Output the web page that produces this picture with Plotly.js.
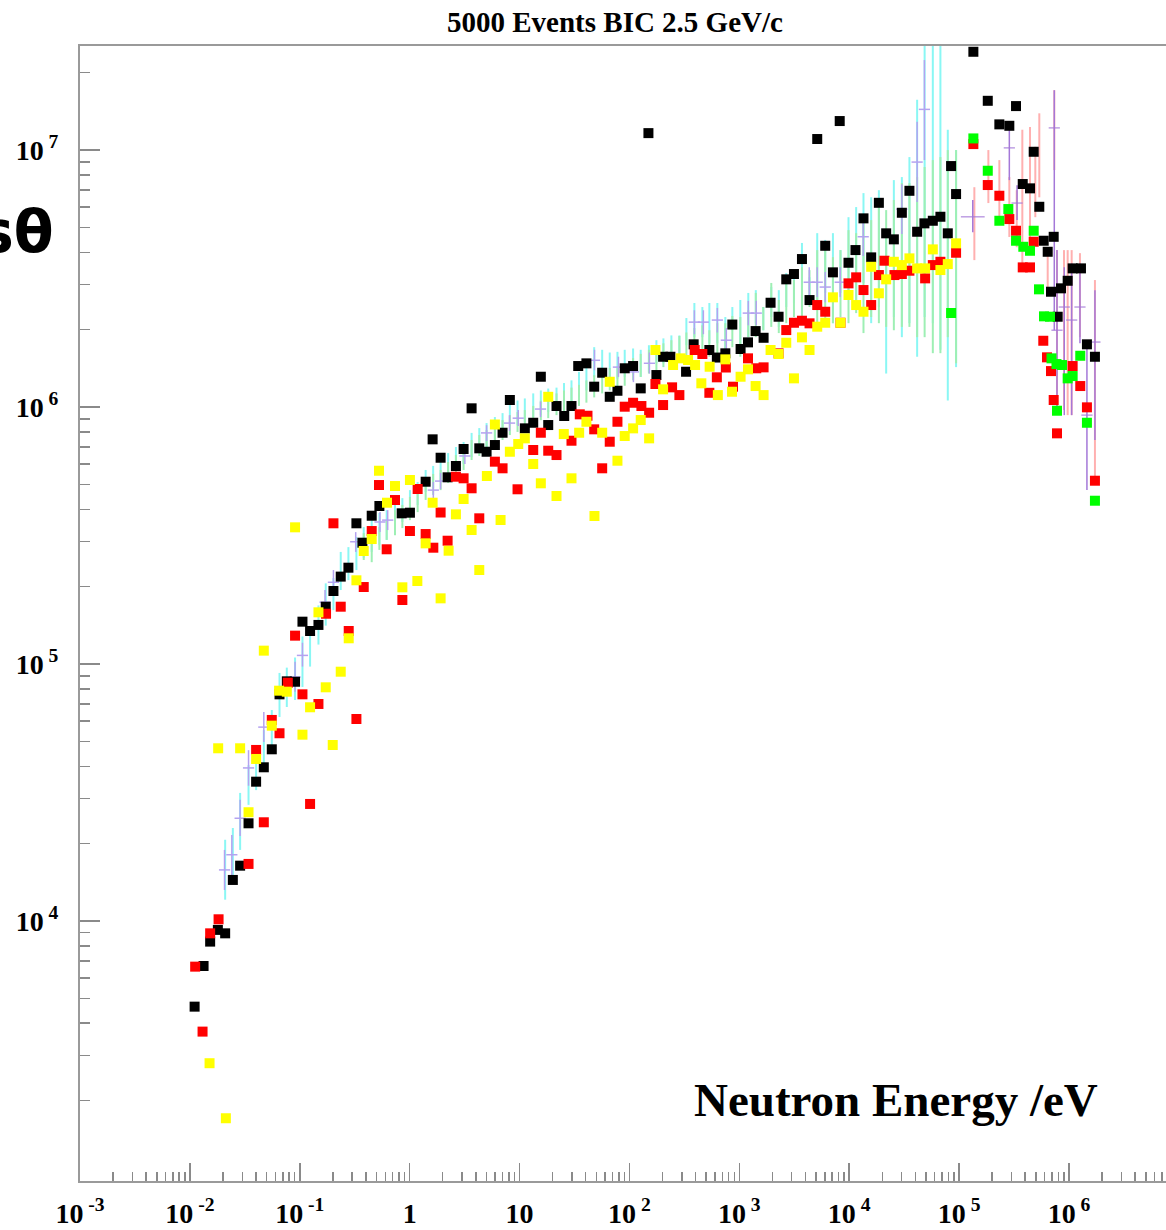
<!DOCTYPE html>
<html><head><meta charset="utf-8">
<script src="https://cdn.plot.ly/plotly-3.0.1.min.js"></script>
<style>html,body{margin:0;padding:0;background:#fff}</style>
</head><body><div id="chart" style="width:1166px;height:1230px"></div>
<script>
// ---- data: neutron energy (eV) vs flux ----
const blackE = [0.01104,0.01332,0.01529,0.01797,0.02094,0.0246,0.02866,0.03417,0.04006,0.04707,0.05564,0.0654,0.0762,0.0906,0.1058,0.1241,0.1479,0.1723,0.2025,0.2359,0.2771,0.3277,0.3715,0.4515,0.5303,0.846,1.006,1.398,1.618,1.913,2.215,2.636,3.097,3.662,4.301,5.012,5.965,7.005,8.163,11.17,13.32,15.62,18.24,21.7,25.5,29.7,34.2,40.6,47.8,56.5,66.2,77.8,90.6,108,126.7,148.9,176,202.5,235.9,327.7,384.2,533.7,624.5,746,863.9,1027,1200,1407,1663,1925,2277,2675,3143,3716,4356,5118,6050,7110,8196,9855,11410,13490,15850,18620,21700,25490,30140,35330,41520,48360,57670,67610,78930,84580,93900,134900,182400,232500,286600,329800,379500,442100,477600,537000,588800,640300,686200,726000,789300,845900,973100,1.08e6,1.286e6,1.457e6,1.723e6];
const blackY = [4640,6680,8310,9230,8950,14440,16410,23990,34830,39630,46560,76200,85600,85300,146100,134400,141900,167100,192300,218800,237000,352800,296500,377600,412000,385800,387900,512100,748600,634900,532700,589500,686400,988500,690700,669900,711400,794300,1.065e6,826000,868600,1.312e6,851000,1.009e6,922600,1.009e6,1.444e6,1.479e6,1.2e6,1.36e6,1.096e6,1.157e6,1.415e6,1.444e6,1.182e6,1.164e7,1.332e6,1.569e6,1.569e6,1.372e6,1.754e6,1.667e6,1.558e6,1.618e6,2.094e6,1.682e6,1.785e6,1.975e6,1.86e6,2.546e6,2.246e6,3.14e6,3.293e6,3.766e6,2.608e6,1.104e7,4.242e6,3.343e6,1.297e7,3.643e6,4.082e6,5.423e6,3.823e6,6.234e6,4.742e6,4.493e6,5.702e6,6.943e6,4.81e6,5.186e6,5.308e6,5.502e6,4.742e6,8.664e6,6.742e6,2.413e7,1.555e7,1.259e7,1.243e7,1.483e7,7.376e6,7.096e6,9.849e6,6.016e6,4.438e6,4.02e6,2.81e6,4.597e6,2.246e6,2.897e6,3.1e6,3.464e6,3.464e6,1.754e6,1.569e6];

const redE = [0.01117,0.01304,0.01529,0.01824,0.03417,0.04006,0.04707,0.05564,0.0654,0.0778,0.0906,0.1058,0.1241,0.1479,0.1734,0.2025,0.2359,0.2789,0.3277,0.382,0.4515,0.526,0.6179,0.7354,0.8583,1.006,1.182,1.398,1.642,1.913,2.215,2.636,3.097,3.662,4.301,5.965,7.005,9.59,13.32,15.62,18.24,21.7,29.7,35.33,41.52,47.8,56.5,66.2,77.8,90.6,108,128.5,151.1,172.4,202.5,244.5,284.8,392.4,461,533.7,624.5,754,876.5,1200,1427,1663,2277,2675,3143,3716,4356,5118,6050,8333,9855,11570,13490,15850,18620,20940,25810,30140,35330,49090,57670,67610,93900,134900,182400,232500,286600,329800,379500,442100,477600,583900,631000,686200,726000,778000,1.08e6,1.267e6,1.457e6,1.723e6];
const redY = [6640,3710,8950,10150,16670,46290,24210,60560,53760,84560,128900,76210,28530,69890,156900,352800,167100,134400,61090,199300,329200,497100,279500,434600,177400,329200,479700,320400,283500,388600,301800,535600,528000,482800,368900,612800,577500,478500,680300,794300,676100,650400,739400,936700,924900,818900,577500,732800,876400,1.003e6,1.039e6,1.009e6,950200,1.229e6,1.018e6,1.193e6,1.113e6,1.667e6,1.608e6,1.136e6,1.305e6,1.425e6,1.2e6,1.547e6,1.415e6,1.427e6,1.618e6,1.993e6,2.128e6,2.167e6,2.117e6,2.494e6,2.349e6,2.128e6,3.029e6,3.197e6,2.853e6,2.494e6,3.263e6,3.71e6,3.263e6,3.293e6,3.392e6,3.168e6,3.568e6,3.675e6,3.985e6,1.055e7,7.31e6,6.641e6,5.389e6,4.853e6,3.495e6,3.495e6,4.398e6,1.811e6,1.561e6,1.38e6,1.065e6,7.9e5,1.444e6,1.207e6,997200,516700];

const yellowE = [0.0151,0.01809,0.02125,0.02866,0.03417,0.04006,0.04707,0.05564,0.06483,0.0762,0.0906,0.1058,0.1241,0.1479,0.1723,0.1995,0.2359,0.2789,0.3277,0.382,0.4515,0.526,0.6218,0.7354,0.8583,1.006,1.175,1.398,1.618,1.913,2.262,2.636,3.097,3.662,4.301,5.043,5.965,6.72,8.163,9.73,11.17,13.32,15.62,18.24,21.7,25.28,29.7,34.88,40.6,48.07,56.5,66.2,77.8,90.6,108,126.7,151.1,172.4,202.5,249.7,292.7,341.7,395.7,451.3,537,637.6,746,858.4,1027,1200,1407,1663,1925,2277,2675,3143,3716,4356,5118,6050,7110,8333,9855,11570,13490,15850,18620,21700,25490,30140,35330,41520,49090,57670,67610,78930,93900];
const yellowY = [2795,46990,1707,46990,26490,42700,112700,57540,78730,78020,340300,53080,67850,158900,81150,48390,93330,125900,211700,275300,306400,565100,424300,492700,198800,520000,210400,294800,424300,180100,276000,382300,438500,332200,232100,538900,855000,363400,669900,717800,755300,600100,504900,1.096e6,450500,785000,528000,794300,876400,376600,794300,1.254e6,618100,771200,826000,890000,755300,1.667e6,1.172e6,1.457e6,1.547e6,1.524e6,1.457e6,1.237e6,1.435e6,1.113e6,1.533e6,1.147e6,1.312e6,1.402e6,1.207e6,1.113e6,1.667e6,1.608e6,1.779e6,1.293e6,1.867e6,1.667e6,2.054e6,2.128e6,2.673e6,2.128e6,2.729e6,2.494e6,2.349e6,3.514e6,2.771e6,3.14e6,3.675e6,3.568e6,3.789e6,3.464e6,3.464e6,4.107e6,3.413e6,3.6e6,4.335e6];

const greenE = [84580,134900,182400,232500,280700,329800,384200,442100,477600,533700,592500,672000,693400,769600,778000,863800,973100,1.08e6,1.267e6,1.457e6,1.723e6];
const greenY = [2.322e6,1.11e7,8.309e6,5.308e6,5.895e6,4.438e6,4.204e6,4.056e6,4.853e6,2.871e6,2.254e6,2.246e6,1.547e6,1.47e6,967400,1.457e6,1.293e6,1.32e6,1.583e6,868600,431900];

// error-bar histograms (lower / upper ends of each bar)
const cyanE = [0.02094,0.0246,0.02866,0.03417,0.04006,0.04707,0.05564,0.0654,0.0762,0.0906,0.1058,0.1241,0.1479,0.1723,0.2025,0.2359,0.2771,0.3277,0.382,0.4515,0.5303,0.6179,0.7354,0.8583,1.006,1.182,1.398,1.636,1.913,2.239,2.636,3.097,3.662,4.301,5.012,5.965,7.005,8.163,9.59,11.17,13.32,15.62,18.24,21.7,25.39,29.7,34.74,40.6,47.8,56.5,66.2,77.8,90.6,108,126.7,150.4,176,203.8,240.9,284.8,329.8,389.9,461,533.7,631,746,864,1021,1207,1413,1653,1954,2287,2675,3143,3716,4356,5118,6050,7110,8333,9855,11570,13490,15850,18620,21700,25490,30140,35330,41520,48580,57670,67610,78930,93900];
const cyanHi = [2.07e4,2.30e4,3.15e4,4.04e4,4.42e4,5.53e4,6.62e4,9.23e4,9.68e4,1.06e5,1.28e5,1.39e5,1.69e5,2.06e5,2.16e5,2.73e5,2.85e5,3.12e5,3.41e5,3.63e5,3.87e5,3.97e5,4.16e5,4.42e5,4.75e5,5.11e5,5.69e5,5.90e5,6.11e5,6.62e5,6.99e5,7.31e5,7.93e5,8.28e5,8.66e5,9.14e5,9.47e5,1.09e6,1.06e6,1.08e6,1.13e6,1.16e6,1.18e6,1.19e6,1.24e6,1.27e6,1.37e6,1.49e6,1.71e6,1.67e6,1.63e6,1.64e6,1.67e6,1.69e6,1.67e6,1.74e6,1.82e6,1.85e6,1.90e6,1.90e6,2.22e6,2.54e6,2.45e6,2.54e6,2.54e6,2.24e6,2.45e6,2.61e6,2.78e6,2.85e6,2.45e6,2.93e6,2.85e6,3.32e6,3.20e6,4.35e6,3.20e6,4.75e6,4.47e6,4.75e6,4.08e6,5.48e6,6.00e6,6.80e6,6.55e6,6.98e6,4.58e6,7.64e6,7.85e6,9.39e6,1.57e7,3e7,3e7,3e7,1.20e7,1.0e7];
const cyanLo = [1.21e4,1.44e4,1.89e4,2.83e4,3.23e4,4.04e4,4.84e4,6.22e4,6.80e4,7.24e4,8.14e4,9.77e4,1.19e5,1.41e5,1.62e5,1.94e5,2.12e5,2.32e5,2.59e5,2.73e5,2.91e5,3.04e5,3.32e5,3.57e5,3.80e5,4.16e5,4.67e5,4.84e5,5.11e5,5.34e5,5.79e5,6.00e5,6.38e5,6.80e5,6.80e5,7.44e5,7.64e5,8.66e5,8.50e5,8.73e5,9.14e5,9.30e5,9.56e5,9.73e5,9.95e5,1.03e6,1.09e6,1.16e6,1.31e6,1.29e6,1.27e6,1.29e6,1.31e6,1.33e6,1.31e6,1.37e6,1.48e6,1.48e6,1.52e6,1.55e6,1.74e6,1.87e6,1.87e6,1.77e6,1.77e6,1.57e6,1.99e6,1.67e6,1.87e6,2.12e6,1.99e6,2.24e6,2.05e6,2.45e6,2.54e6,2.85e6,2.54e6,2.61e6,2.78e6,2.12e6,2.78e6,2.78e6,2.54e6,3.04e6,2.12e6,2.45e6,1.35e6,2.24e6,1.87e6,2.12e6,1.57e6,2.24e6,2.12e6,1.67e6,1.06e6,1.43e6];

const mintE = [0.382,0.4515,0.5303,0.6179,0.7354,0.8583,1.006,1.182,1.398,1.636,1.913,2.239,2.636,3.097,3.662,4.301,5.012,5.965,7.005,8.163,9.59,11.17,13.32,15.62,18.24,21.7,25.39,29.7,34.74,40.6,47.8,56.5,66.2,77.8,90.6,108,126.7,150.4,176,203.8,240.9,284.8,329.8,389.9,461,533.7,631,746,864,1021,1207,1413,1653,1954,2287,2675,3143,3716,4356,5118,6050,7110,8333,9855,11570,13490,15850,18620,21700,25490,30140,35330,41520,48580,57670,67610,78930,93900];
const mintHi = [3.23e5,3.17e5,3.41e5,3.63e5,3.97e5,4.16e5,4.47e5,4.75e5,5.20e5,5.49e5,5.69e5,6.11e5,6.50e5,6.80e5,7.44e5,7.78e5,8.14e5,8.50e5,8.89e5,9.30e5,9.56e5,9.73e5,1.01e6,1.06e6,1.09e6,1.13e6,1.16e6,1.19e6,1.22e6,1.27e6,1.33e6,1.37e6,1.42e6,1.44e6,1.48e6,1.55e6,1.61e6,1.67e6,1.71e6,1.77e6,1.82e6,1.89e6,1.95e6,2.03e6,2.08e6,1.99e6,2.12e6,2.12e6,2.26e6,2.24e6,2.38e6,2.78e6,2.45e6,3.04e6,2.61e6,3.04e6,3.12e6,3.50e6,3.41e6,4.08e6,4.19e6,3.83e6,4.08e6,4.88e6,4.75e6,5.48e6,5.34e6,6.39e6,5.84e6,6.39e6,7.44e6,7.44e6,7.85e6,8.59e6,9.14e6,9.39e6,1.0e7,1.0e7];
const mintLo = [2.54e5,2.49e5,2.78e5,3.04e5,3.17e5,3.38e5,3.63e5,3.90e5,4.35e5,4.55e5,4.75e5,5.06e5,5.44e5,5.69e5,6.22e5,6.45e5,6.80e5,7.11e5,7.44e5,7.78e5,8.00e5,8.14e5,8.50e5,8.89e5,9.05e5,9.30e5,9.56e5,9.91e5,1.01e6,1.04e6,1.09e6,1.13e6,1.16e6,1.18e6,1.21e6,1.27e6,1.31e6,1.35e6,1.39e6,1.43e6,1.48e6,1.52e6,1.58e6,1.64e6,1.67e6,1.57e6,1.57e6,1.48e6,1.71e6,1.57e6,1.87e6,1.87e6,1.99e6,2.05e6,1.94e6,2.12e6,2.24e6,2.24e6,2.45e6,1.99e6,2.18e6,2.12e6,2.24e6,2.12e6,2.32e6,1.94e6,2.24e6,2.12e6,2.05e6,1.99e6,2.05e6,2.05e6,1.87e6,1.87e6,1.62e6,1.62e6,1.87e6,1.48e6];

const violetE = [0.02067,0.02409,0.02866,0.03417,0.04707,0.0906,0.1058,0.1698,0.2025,0.3229,0.537,0.631,1.642,1.913,3.18,5.012,8.11,9.73,15.52,48.1,79.4,108.7,152,389.9,470.8,631,761.8,1207,1427,4329,5118,6050,8282,13410,30140,41520,48360];
const violetY = [1.58e4,1.81e4,2.51e4,3.94e4,5.68e4,8.90e4,1.08e5,1.74e5,2.08e5,2.99e5,3.57e5,3.63e5,4.75e5,5.15e5,6.45e5,7.93e5,8.66e5,9.05e5,9.82e5,1.52e6,1.43e6,1.37e6,1.48e6,2.14e6,2.14e6,2.18e6,1.82e6,2.32e6,2.32e6,3.06e6,3.06e6,2.93e6,3.06e6,4.60e6,5.89e6,8.98e6,1.44e7];
const violetHi = [1.89e4,2.16e4,2.96e4,4.62e4,6.50e4,1.02e5,1.21e5,1.94e5,2.32e5,3.26e5,3.90e5,3.97e5,5.11e5,5.54e5,6.92e5,8.50e5,9.30e5,9.73e5,1.05e6,1.67e6,1.57e6,1.49e6,1.63e6,2.38e6,2.38e6,2.43e6,2.03e6,2.59e6,2.59e6,3.50e6,3.50e6,3.35e6,3.50e6,5.53e6,7.37e6,1.29e7,2.24e7];
const violetLo = [1.32e4,1.51e4,2.14e4,3.36e4,4.97e4,7.79e4,9.77e4,1.56e5,1.87e5,2.73e5,3.26e5,3.32e5,4.42e5,4.79e5,6.00e5,7.37e5,8.07e5,8.43e5,9.14e5,1.39e6,1.31e6,1.25e6,1.35e6,1.92e6,1.92e6,1.95e6,1.64e6,2.08e6,2.08e6,2.68e6,2.68e6,2.56e6,2.68e6,3.87e6,4.71e6,6.28e6,9.14e6];

const purpleE = [133200,286600,336900,735200,778000,906300,1.058e6,1.259e6,1.457e6,1.723e6];
const purpleY = [5.50e6,1.02e7,6.22e6,1.22e7,1.99e6,2.45e6,2.18e6,2.45e6,9.30e5,1.79e6];
const purpleHi = [6.39e6,1.20e7,7.30e6,1.71e7,4.08e6,3.50e6,3.62e6,3.62e6,1.77e6,2.85e6];
const purpleLo = [4.79e6,7.64e6,5.34e6,1.99e6,9.73e5,9.30e5,9.30e5,1.77e6,4.75e5,7.44e5];

const pinkE = [137700,184700,232500,286600,334600,376300,442100,493900,537000,640300,735200,778000,900700,973100,1.058e6,1.259e6,1.723e6];
const pinkHi = [7.17e6,1.0e7,9.14e6,7.85e6,6.98e6,1.20e7,1.23e7,1.03e7,1.39e7,4.08e6,1.71e7,4.08e6,4.08e6,4.08e6,4.08e6,3.97e6,3.12e6];
const pinkLo = [3.73e6,6.22e6,5.48e6,4.59e6,4.19e6,3.63e6,4.19e6,5.48e6,6.55e6,2.78e6,8.36e6,1.0e6,9.73e5,9.30e5,9.30e5,1.87e6,5.06e5];

const xTickVals = [1e-3,1e-2,1e-1,1,10,1e2,1e3,1e4,1e5,1e6];
const xTickText = ['10<sup>\u00a0-3</sup>','10<sup>\u00a0-2</sup>','10<sup>\u00a0-1</sup>','1','10','10<sup>\u00a02</sup>','10<sup>\u00a03</sup>','10<sup>\u00a04</sup>','10<sup>\u00a05</sup>','10<sup>\u00a06</sup>'];
const yTickVals = [1e4,1e5,1e6,1e7];
const yTickText = ['10<sup>\u00a04</sup>','10<sup>\u00a05</sup>','10<sup>\u00a06</sup>','10<sup>\u00a07</sup>'];

// ---- build traces ----
function spanBars(E, lo, hi, color, w) {
  return {type:'scatter', mode:'markers', x:E, y:lo, hoverinfo:'skip', showlegend:false,
    marker:{size:1, color:'rgba(0,0,0,0)'},
    error_y:{type:'data', symmetric:false, array:hi.map((h,i)=>h-lo[i]), arrayminus:lo.map(()=>0),
      color:color, thickness:w, width:0}};
}
function crossBars(E, y, lo, hi, color, sizes) {
  return {type:'scatter', mode:'markers', x:E, y:y, hoverinfo:'skip', showlegend:false,
    marker:{symbol:'line-ew', size:sizes, color:color, line:{width:1.5, color:color}},
    error_y:{type:'data', symmetric:false, array:hi.map((h,i)=>h-y[i]), arrayminus:lo.map((l,i)=>y[i]-l),
      color:color, thickness:1.5, width:0}};
}
function squares(E, Y, color) {
  return {type:'scatter', mode:'markers', x:E, y:Y, showlegend:false,
    marker:{symbol:'square', size:10, color:color, line:{width:0}}};
}
const traces = [
  spanBars(cyanE, cyanLo, cyanHi, '#8af7f4', 2),
  spanBars(mintE, mintLo, mintHi, '#9eefb4', 2),
  crossBars(violetE, violetY, violetLo, violetHi, '#b4a2f0', 8),
  spanBars(pinkE, pinkLo, pinkHi, '#ffb0b0', 2),
  crossBars(purpleE, purpleY, purpleLo, purpleHi, '#a478d8', purpleE.map((e,i)=>i===0?17:8)),
  squares(blackE, blackY, '#000000'),
  squares(redE, redY, '#ff0000'),
  squares(yellowE, yellowY, '#ffff00'),
  squares(greenE, greenY, '#00ff00')
];

const minorX = [], minorY = [];
for (let d=-3; d<=6; d++) for (let k=2; k<=9; k++) minorX.push(k*Math.pow(10,d));
for (let d=2; d<=7; d++) for (let k=2; k<=9; k++) minorY.push(k*Math.pow(10,d));

const tickFont = {family:'Liberation Serif', size:28, color:'#000'};
const layout = {
  width:1166, height:1230,
  margin:{l:80, r:0, t:46, b:49, pad:0},
  paper_bgcolor:'#fff', plot_bgcolor:'#fff',
  showlegend:false,
  xaxis:{type:'log', range:[-3.0, 6.883], showgrid:false, zeroline:false,
    showline:true, linecolor:'#9a9a9a', linewidth:2, mirror:true,
    tickmode:'array', tickvals:xTickVals, ticktext:xTickText.map(t=>'<b>'+t+'</b>'),
    ticks:'inside', ticklen:18, tickwidth:1.5, tickcolor:'#8a8a8a',
    tickfont:tickFont, ticklabelstandoff:6,
    minor:{tickmode:'array', tickvals:minorX, ticks:'inside', ticklen:9, tickwidth:1.5, tickcolor:'#8a8a8a', showgrid:false}},
  yaxis:{type:'log', range:[2.988, 7.405], showgrid:false, zeroline:false,
    showline:true, linecolor:'#9a9a9a', linewidth:2, mirror:false,
    tickmode:'array', tickvals:yTickVals, ticktext:yTickText.map(t=>'<b>'+t+'</b>'),
    ticks:'inside', ticklen:20, tickwidth:1.5, tickcolor:'#8a8a8a',
    tickfont:tickFont, ticklabelstandoff:14,
    minor:{tickmode:'array', tickvals:minorY, ticks:'inside', ticklen:10, tickwidth:1.5, tickcolor:'#8a8a8a', showgrid:false}},
  annotations:[
    {text:'<b>5000 Events BIC 2.5 GeV/c</b>', xref:'paper', yref:'paper', x:0.4926, y:1.0211,
     xanchor:'center', yanchor:'middle', showarrow:false,
     font:{family:'Liberation Serif', size:29, color:'#000'}},
    {text:'<b>Neutron Energy /eV</b>', xref:'paper', yref:'paper', x:0.9392, y:0.0714,
     xanchor:'right', yanchor:'middle', showarrow:false,
     font:{family:'Liberation Serif', size:47, color:'#000'}},
    {text:'<b>cosθ</b>', xref:'paper', yref:'paper', x:-0.0221, y:0.8361,
     xanchor:'right', yanchor:'middle', showarrow:false,
     font:{family:'DejaVu Sans', size:58, color:'#000'}}
  ]
};
Plotly.newPlot('chart', traces, layout, {staticPlot:true, displayModeBar:false});
</script>
</body></html>
